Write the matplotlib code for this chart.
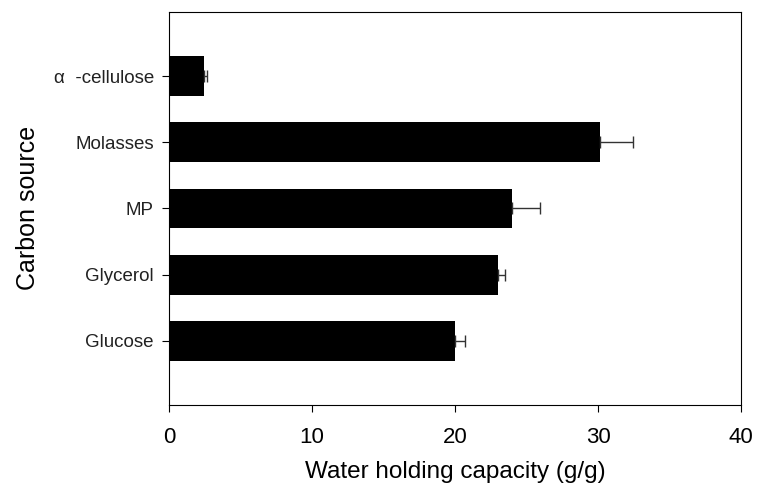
import matplotlib
matplotlib.use("Agg")
import matplotlib.pyplot as plt

plt.rcParams['font.family'] = ['Liberation Sans', 'DejaVu Sans']

# Data
sources = ["Glucose", "Glycerol", "MP", "Molasses", "α  -cellulose"]
capacity = [20.0, 23.0, 24.0, 30.1, 2.45]
errors = [0.7, 0.5, 1.9, 2.3, 0.2]

fig = plt.figure(figsize=(7.58, 4.91), dpi=100)
ax = fig.add_axes([0.223, 0.175, 0.755, 0.801])

pos = list(range(len(sources)))
ax.barh(pos, capacity, height=0.6, color="black")
# one-sided error bars
ax.errorbar(capacity, pos, xerr=[[0] * len(errors), errors], fmt="none",
            ecolor="#333333", elinewidth=1, capsize=4, capthick=1)

ax.set_xlim(0, 40)
ax.set_ylim(-0.97, 4.97)
ax.set_xticks([0, 10, 20, 30, 40])
ax.set_yticks(pos)
ax.set_yticklabels(sources, fontsize=13.5, color="#222222")
ax.tick_params(axis="x", labelsize=16, direction="out", length=5, pad=11)
ax.tick_params(axis="y", direction="out", length=5, pad=6)

ax.set_xlabel("Water holding capacity (g/g)", fontsize=17.5, labelpad=9)
ax.set_ylabel("Carbon source", fontsize=18, labelpad=10)

fig.savefig("out.png", dpi=100)
